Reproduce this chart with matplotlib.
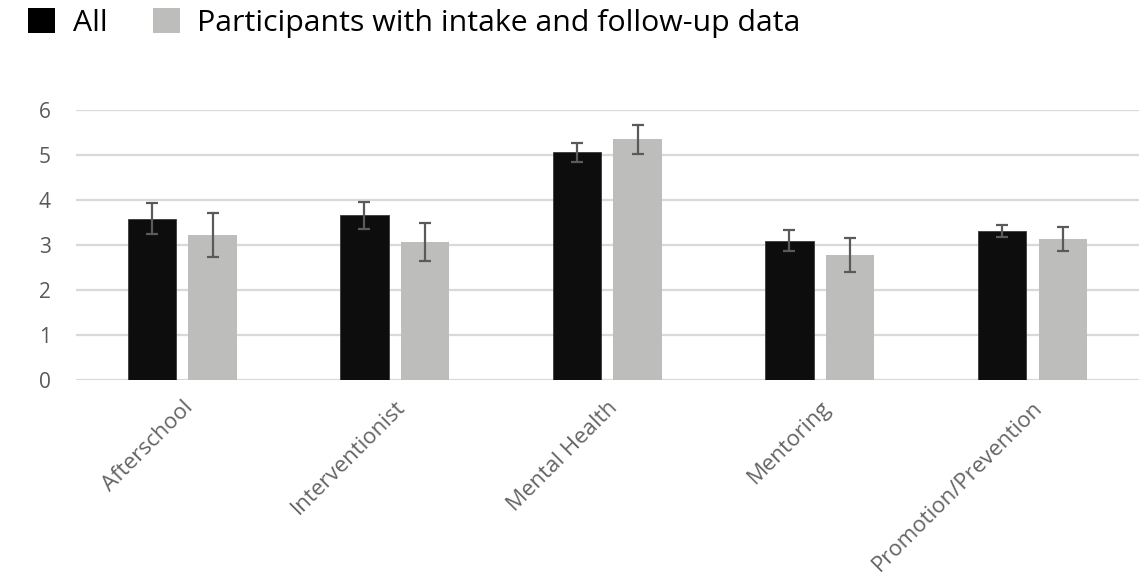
import numpy as np
import matplotlib
matplotlib.use("Agg")
import matplotlib.pyplot as plt
from matplotlib.patches import Patch

plt.rcParams['font.family'] = ['Open Sans', 'DejaVu Sans']

# values
categories = ["Afterschool", "Interventionist", "Mental Health", "Mentoring", "Promotion/Prevention"]
all_mean = [3.59, 3.66, 5.06, 3.10, 3.31]
all_err = [0.35, 0.30, 0.21, 0.24, 0.13]
followup_mean = [3.22, 3.07, 5.35, 2.78, 3.14]
followup_err = [0.49, 0.42, 0.33, 0.38, 0.26]
series_names = ["All", "Participants with intake and follow-up data"]

txt_col = "#595959"
grid_col = "#d9d9d9"
black = "#0d0d0d"
grey = "#bdbdbb"

fig = plt.figure(figsize=(11.39, 5.83), dpi=100)
ax = fig.add_axes([0.0667, 0.348, 0.933, 0.463])

x = np.arange(len(categories))
w = 0.228
off = 0.143

errkw = dict(ecolor="#5a5a5a", elinewidth=1.6, capsize=4.5, capthick=1.6)
ax.bar(x - off, all_mean, w, color=black, edgecolor="#3a3a3a", linewidth=0.6,
       yerr=all_err, error_kw=errkw, zorder=3)
ax.bar(x + off, followup_mean, w, color=grey, yerr=followup_err,
       error_kw=errkw, zorder=3)

ax.set_xlim(-0.5, len(categories) - 0.5)
ax.set_ylim(0, 6)
ax.set_yticks(range(0, 7))
ax.yaxis.grid(True, color=grid_col, linewidth=1.6, zorder=0)
ax.set_axisbelow(True)
for s in ax.spines.values():
    s.set_visible(False)
ax.tick_params(axis='both', length=0)
ax.tick_params(axis='y', labelsize=15, labelcolor=txt_col, pad=18)
ax.set_xticks(x)
ax.set_xticklabels(categories, rotation=45, ha='right', rotation_mode='anchor',
                   fontsize=16, color="#646464")
ax.tick_params(axis='x', pad=12)

handles = [Patch(facecolor="#000000"), Patch(facecolor=grey)]
fig.legend(handles, series_names, loc='center left',
           bbox_to_anchor=(28 / 1139, 1 - 23 / 583), ncol=2, frameon=False,
           fontsize=21.8, handlelength=0.9, handleheight=0.87,
           handletextpad=0.57, columnspacing=1.5, borderpad=0, borderaxespad=0)

fig.savefig("out.png", dpi=100)
